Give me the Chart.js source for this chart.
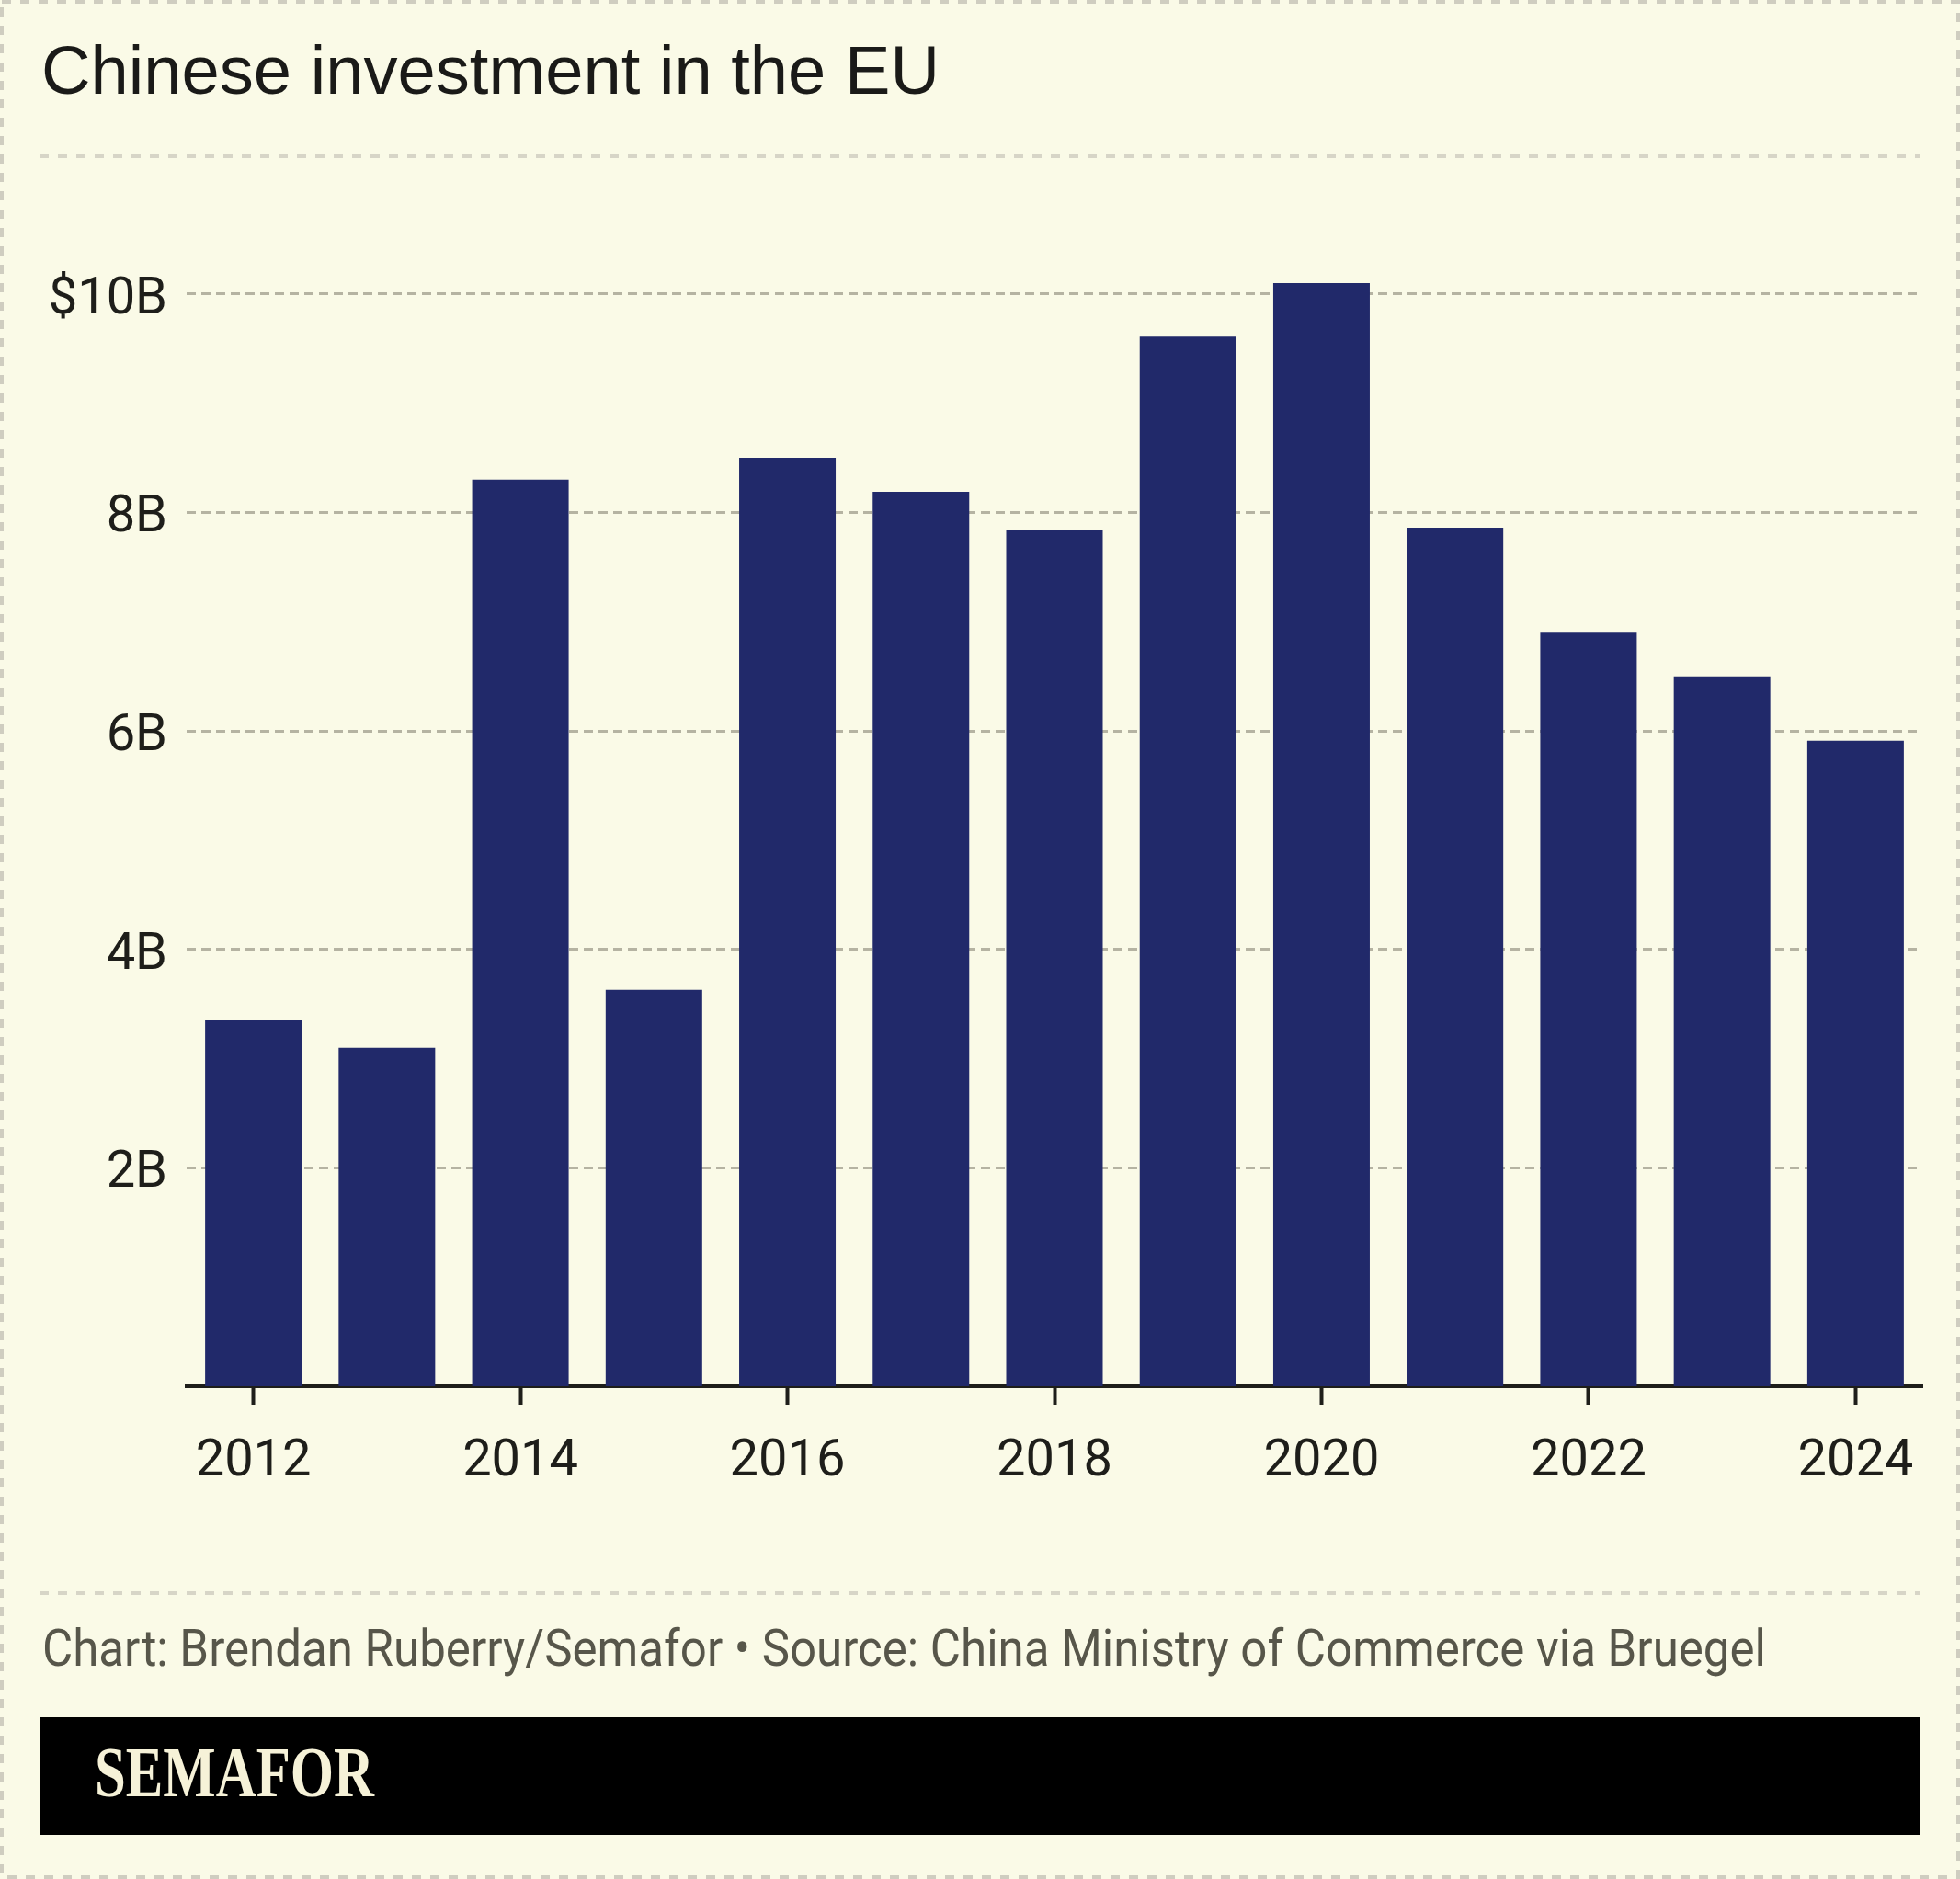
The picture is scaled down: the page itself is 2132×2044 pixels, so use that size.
<!DOCTYPE html>
<html>
<head>
<meta charset="utf-8">
<script src="https://cdn.jsdelivr.net/npm/chart.js@4.4.1/dist/chart.umd.min.js"></script>
<style>
  html, body { margin: 0; padding: 0; background: #fafae7; }
  #page { position: relative; width: 2132px; height: 2044px; overflow: hidden; background: #fafae7; }
  #chart { position: absolute; left: 0; top: 0; }
  .txt { position: absolute; white-space: nowrap; line-height: 1; transform-origin: 0 0; }
  #title { left: 45px; top: 40px; font-family: "Liberation Sans", Arial, sans-serif; font-size: 74px; color: #1a1a18; }
  #source { left: 46px; top: 1765px; font-family: Roboto, sans-serif; font-size: 56px; color: #57564a; }
  #logobox { position: absolute; left: 44px; top: 1868px; width: 2044px; height: 128px; background: #000; }
  #logo { left: 103px; top: 1888px; font-family: "Liberation Serif", "DejaVu Serif", serif; font-weight: bold; font-size: 79px; color: #f6f2d8; }
  svg { position: absolute; left: 0; top: 0; }
</style>
</head>
<body>
<div id="page">
  <svg width="2132" height="2044">
    <rect x="2" y="2" width="2128" height="2040" fill="none" stroke="#cfcdc0" stroke-width="4" stroke-dasharray="10 10"/>
    <line x1="43" y1="170" x2="2088" y2="170" stroke="#d7d5c7" stroke-width="4" stroke-dasharray="10 10"/>
    <line x1="43" y1="1733" x2="2088" y2="1733" stroke="#d7d5c7" stroke-width="4" stroke-dasharray="10 10"/>
  </svg>
  <div id="title" class="txt">Chinese investment in the EU</div>
  <canvas id="chart" width="2132" height="2044"></canvas>
  <div id="source" class="txt">Chart: Brendan Ruberry/Semafor • Source: China Ministry of Commerce via Bruegel</div>
  <div id="logobox"></div>
  <div id="logo" class="txt">SEMAFOR</div>
</div>
<script>
// ---- data ----
const years = ['2012','2013','2014','2015','2016','2017','2018','2019','2020','2021','2022','2023','2024'];
const investment = [3.35, 3.10, 8.30, 3.63, 8.50, 8.19, 7.84, 9.61, 10.10, 7.86, 6.90, 6.50, 5.91];
const yTicks = [2, 4, 6, 8, 10];
const yTickLabels = ['2B', '4B', '6B', '8B', '$10B'];

// fit condensed-looking texts to the reference widths
function fitWidth(id, target) {
  const el = document.getElementById(id);
  const w = el.getBoundingClientRect().width;
  el.style.transform = 'scaleX(' + (target / w) + ')';
}
fitWidth('title', 977);
fitWidth('source', 1875);
fitWidth('logo', 304);

const ink = '#1e1e1a';
const tickFont = { family: 'Roboto', size: 56 };

new Chart(document.getElementById('chart'), {
  type: 'bar',
  data: {
    labels: years,
    datasets: [{
      data: investment,
      backgroundColor: '#21296a',
      borderWidth: 0,
      barPercentage: 0.723,
      categoryPercentage: 1.0
    }]
  },
  options: {
    responsive: false,
    animation: false,
    layout: { padding: { left: 0, right: 41, top: 201, bottom: 406 } },
    plugins: { legend: { display: false }, tooltip: { enabled: false } },
    scales: {
      x: {
        offset: true,
        grid: {
          display: true,
          offset: false,
          drawOnChartArea: false,
          drawTicks: true,
          tickLength: 20,
          tickWidth: 4,
          tickColor: (ctx) => (ctx.index % 2 === 0 ? ink : 'rgba(0,0,0,0)')
        },
        border: { display: true, color: ink, width: 4 },
        ticks: {
          autoSkip: false,
          maxRotation: 0,
          color: ink,
          font: tickFont,
          padding: 29,
          callback: (v, i) => (i % 2 === 0 ? years[i] : '')
        },
        afterFit: (s) => { s.height = 130; }
      },
      y: {
        min: 0,
        max: 11,
        afterBuildTicks: (s) => { s.ticks = yTicks.map((v) => ({ value: v })); },
        afterFit: (s) => { s.width = 203; },
        grid: { drawTicks: false, tickLength: 0, color: '#b5b3a2', lineWidth: 3 },
        border: { display: false, dash: [10, 6] },
        ticks: {
          padding: 21,
          labelOffset: 7,
          color: ink,
          font: tickFont,
          callback: (v) => yTickLabels[yTicks.indexOf(v)]
        }
      }
    }
  }
});
</script>
</body>
</html>
